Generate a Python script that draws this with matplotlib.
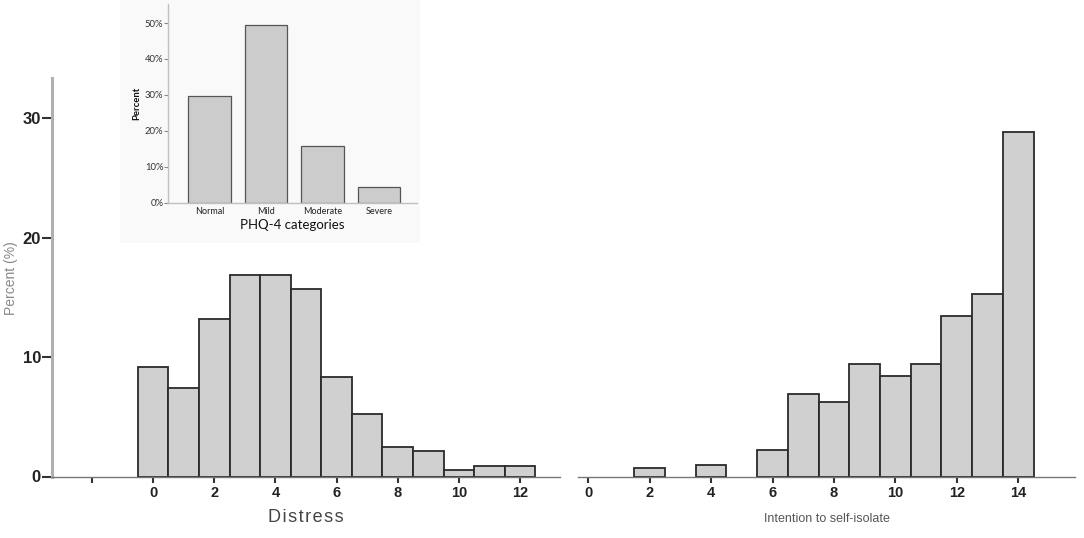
import matplotlib
matplotlib.use("Agg")
import matplotlib.pyplot as plt
from matplotlib.patches import Rectangle
import numpy as np

# ---- data ----
distress_scores = list(range(0, 13))
distress_pct = [9.2, 7.4, 13.2, 16.9, 16.9, 15.65, 8.3, 5.2, 2.45, 2.1, 0.56, 0.92, 0.92]

isolate_scores = [2, 4, 6, 7, 8, 9, 10, 11, 12, 13, 14]
isolate_pct = [0.67, 0.95, 2.23, 6.9, 6.25, 9.4, 8.45, 9.4, 13.45, 15.3, 28.8]

phq_categories = ["Normal", "Mild", "Moderate", "Severe"]
phq_pct = [29.7, 49.5, 15.9, 4.4]

main_yticks = [0, 10, 20, 30]
distress_xticks = [-2, 0, 2, 4, 6, 8, 10, 12]
distress_xticklabels = ["", "0", "2", "4", "6", "8", "10", "12"]
isolate_xticks = [0, 2, 4, 6, 8, 10, 12, 14]
phq_yticks = [0, 10, 20, 30, 40, 50]
phq_yticklabels = ["0%", "10%", "20%", "30%", "40%", "50%"]

W, H = 1084, 538
fig = plt.figure(figsize=(W / 100, H / 100), dpi=100)
fig.patch.set_facecolor("white")

def fx(px):
    return px / W

def fy(py):
    return 1 - py / H

BAR_FC = "#d0d0d0"
BAR_EC = "#2a2a2a"
YMAX = 33.35

# ---- inset background ----
fig.patches.append(Rectangle((fx(120), fy(243)), fx(420 - 120), 243 / H,
                             transform=fig.transFigure, facecolor="#f9f9f9",
                             edgecolor="none", zorder=-5))

# ---- left panel (Distress) ----
axL = fig.add_axes([fx(52), fy(476.5), fx(560 - 52), (476.5 - 78) / H])
axL.bar(distress_scores, distress_pct, width=1.0, color=BAR_FC, edgecolor=BAR_EC, linewidth=1.3, zorder=2)
axL.set_xlim(-3.31, 13.31)
axL.set_ylim(0, YMAX)
axL.set_facecolor("none")
for s in ["top", "right"]:
    axL.spines[s].set_visible(False)
axL.spines["left"].set_color("#b0b0b0")
axL.spines["left"].set_linewidth(2.2)
axL.spines["bottom"].set_color("#777777")
axL.spines["bottom"].set_linewidth(1.0)
axL.set_yticks(main_yticks)
axL.set_yticklabels([str(v) for v in main_yticks], fontsize=12, fontweight="bold",
                    family="Liberation Sans", color="#222222")
axL.tick_params(axis="y", length=7, width=1.5, color="#333333", pad=1)
axL.set_xticks(distress_xticks)
axL.set_xticklabels(distress_xticklabels, fontsize=10.5, fontweight="bold",
                    family="Liberation Sans", color="#222222")
axL.tick_params(axis="x", length=4, width=1.5, color="#333333", pad=3)
axL.set_xlabel("D i s t r e s s".replace(" ", "\u200a"), fontsize=13, color="#444444",
               family="Liberation Sans", labelpad=6)
axL.set_ylabel("Percent (%)", fontsize=10, color="#888888", family="Liberation Sans")
axL.yaxis.set_label_coords(-0.067, 0.498)

# ---- right panel (Intention to self-isolate) ----
axR = fig.add_axes([fx(578), fy(476.5), fx(1075 - 578), (476.5 - 78) / H])
axR.bar(isolate_scores, isolate_pct, width=1.0, color=BAR_FC, edgecolor=BAR_EC, linewidth=1.3, zorder=2)
axR.set_xlim(-0.335, 15.85)
axR.set_ylim(0, YMAX)
axR.set_facecolor("none")
for s in ["top", "right", "left"]:
    axR.spines[s].set_visible(False)
axR.spines["bottom"].set_color("#777777")
axR.spines["bottom"].set_linewidth(1.0)
axR.set_yticks([])
axR.set_xticks(isolate_xticks)
axR.set_xticklabels([str(v) for v in isolate_xticks], fontsize=10.5, fontweight="bold",
                    family="Liberation Sans", color="#222222")
axR.tick_params(axis="x", length=4, width=1.5, color="#333333", pad=3)
axR.set_xlabel("Intention to self-isolate", fontsize=9, color="#555555",
               family="Liberation Sans", labelpad=9)

# ---- inset (PHQ-4 categories) ----
axI = fig.add_axes([fx(168.3), fy(202.7), fx(416.7 - 168.3), (202.7 - 4) / H])
xpos = np.arange(len(phq_categories))
axI.bar(xpos, phq_pct, width=0.75, color="#cccccc", edgecolor="#555555", linewidth=0.9, zorder=2)
axI.set_xlim(-0.73, 3.67)
axI.set_ylim(0, 55.3)
axI.set_facecolor("none")
for s in ["top", "right"]:
    axI.spines[s].set_visible(False)
for s in ["left", "bottom"]:
    axI.spines[s].set_color("#c0c0c0")
    axI.spines[s].set_linewidth(1.0)
axI.set_yticks(phq_yticks)
axI.set_yticklabels(phq_yticklabels, fontsize=6.8, family="Lato", color="#333333")
axI.tick_params(axis="y", length=3, width=0.8, color="#888888", pad=0.5)
axI.set_xticks(xpos)
axI.set_xticklabels(phq_categories, fontsize=6.5, family="Lato", color="#222222")
axI.tick_params(axis="x", length=0, pad=3)
axI.set_xlabel("PHQ-4 categories", fontsize=9.5, family="Lato", color="#111111", labelpad=2)
axI.set_ylabel("Percent", fontsize=6.8, fontweight="bold", family="Lato", color="#111111", labelpad=3)

fig.savefig("out.png", dpi=100, facecolor="white")
